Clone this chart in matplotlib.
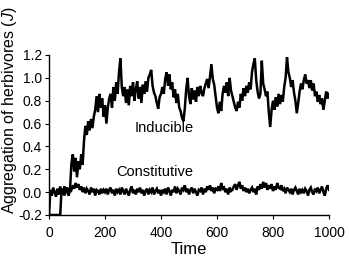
import numpy as np
import matplotlib
matplotlib.use("Agg")
import matplotlib.pyplot as plt

plt.rcParams['font.family'] = ['Liberation Sans', 'DejaVu Sans']
plt.rcParams['mathtext.fontset'] = 'custom'
plt.rcParams['mathtext.it'] = 'Liberation Sans:italic'

# time steps (every 5 units)
time = np.arange(0, 1001, 5)

inducible = [
    -0.2, -0.2, -0.2, -0.2, -0.2, -0.2, -0.2, -0.2, -0.2,
    0.03, -0.02, 0.05, 0.0, 0.04, -0.03, 0.02,
    0.25, 0.33, 0.18, 0.3, 0.13, 0.27, 0.2, 0.33, 0.24,
    0.45, 0.58, 0.5, 0.62, 0.54, 0.64, 0.56, 0.66, 0.72, 0.84, 0.7, 0.86, 0.74, 0.82, 0.66, 0.76,
    0.6, 0.74, 0.82, 0.86, 0.74, 0.92, 0.8, 0.96, 0.86, 1.05, 1.17, 0.92, 0.84, 0.92, 0.78, 0.9, 0.76, 0.93, 0.84, 0.96,
    0.8, 0.9, 0.97, 0.82, 0.92, 0.78, 0.94, 0.86, 0.97, 0.88, 1.0, 1.03, 1.07, 0.93, 0.87, 0.84, 0.78, 0.73, 0.83, 0.86,
    0.92, 0.86, 0.99, 1.05, 0.93, 1.03, 0.9, 0.96, 0.83, 0.9, 0.78, 0.86, 0.74, 0.71, 0.65, 0.62, 0.73, 0.9, 1.0, 0.84,
    0.77, 0.91, 0.81, 0.89, 0.79, 0.92, 0.84, 0.93, 0.87, 0.84, 0.91, 0.95, 0.99, 0.91, 1.01, 1.12, 0.99, 0.94, 0.84, 0.74,
    0.69, 0.79, 0.71, 0.86, 0.93, 0.87, 0.96, 0.84, 1.0, 0.89, 0.84, 0.79, 0.74, 0.71, 0.79, 0.74, 0.86, 0.8, 0.91, 0.84,
    0.93, 0.87, 0.96, 0.9, 1.05, 1.12, 1.17, 0.98, 0.88, 0.82, 0.86, 1.15, 0.95, 0.9, 0.84, 0.88, 0.7, 0.57, 0.72, 0.8,
    0.72, 0.83, 0.75, 0.86, 0.77, 0.85, 0.79, 0.92, 1.0, 1.18, 1.05, 1.0, 0.92, 0.98, 0.87, 0.8, 0.69, 0.78, 0.88, 0.95,
    0.9, 0.98, 1.03, 0.95, 0.98, 0.91, 0.98, 0.89, 0.95, 0.84, 0.88, 0.79, 0.85, 0.77, 0.82, 0.72, 0.8, 0.88, 0.82, 0.86,
]

constitutive = [
    -0.2,
    0.02, -0.03, 0.04, 0.0, -0.04, 0.03, -0.02, 0.05, -0.01, 0.02, -0.03, 0.03, 0.0, -0.02, 0.04, 0.02, 0.06, 0.03, 0.08, 0.04,
    0.07, 0.02, 0.05, 0.0, 0.04, -0.01, 0.03, 0.01, -0.02, 0.04, 0.0, 0.03, -0.03, 0.02, 0.01, -0.02, 0.03, -0.01, 0.02, 0.0,
    0.03, -0.02, 0.02, 0.04, -0.01, 0.02, -0.03, 0.03, 0.0, 0.02, -0.02, 0.04, 0.01, -0.02, 0.03, 0.0, -0.03, 0.02, 0.05, -0.01,
    0.02, -0.02, 0.03, 0.0, 0.04, -0.01, 0.02, -0.03, 0.01, 0.03, -0.02, 0.02, 0.0, 0.04, -0.02, 0.01, 0.03, -0.01, 0.02, -0.03,
    0.02, 0.0, 0.03, -0.02, 0.04, 0.01, -0.03, 0.02, 0.0, 0.05, -0.01, 0.03, 0.01, -0.02, 0.04, 0.02, 0.06, 0.0, 0.03, -0.02,
    0.02, 0.04, -0.01, 0.03, 0.0, -0.03, 0.02, 0.01, 0.04, -0.02, 0.03, 0.0, 0.05, 0.02, 0.06, 0.01, 0.04, -0.01, 0.03, 0.02,
    0.05, 0.01, 0.08, 0.03, 0.04, 0.0, 0.03, -0.02, 0.04, 0.01, 0.02, 0.05, 0.07, 0.02, 0.06, 0.09, 0.03, 0.06, 0.01, 0.04,
    0.0, 0.03, -0.01, 0.02, 0.04, 0.0, 0.03, -0.02, 0.05, 0.02, 0.07, 0.03, 0.09, 0.04, 0.08, 0.02, 0.06, 0.03, 0.07, 0.01,
    0.05, 0.02, 0.08, 0.04, 0.03, 0.06, 0.01, 0.03, -0.01, 0.04, 0.02, 0.0, 0.03, -0.02, 0.02, 0.04, 0.01, -0.02, 0.03, 0.0,
    0.02, -0.01, 0.03, 0.01, -0.03, 0.02, 0.04, 0.0, -0.02, 0.03, 0.01, 0.04, -0.01, 0.02, 0.05, 0.0, -0.03, 0.03, 0.06, 0.02,
]

xticks = [0, 200, 400, 600, 800, 1000]
yticks = [-0.2, 0.0, 0.2, 0.4, 0.6, 0.8, 1.0, 1.2]

fig = plt.figure(figsize=(3.49, 2.63), dpi=100)
ax = fig.add_axes([49 / 349, 1 - 215 / 263, 280 / 349, 160 / 263])

ax.plot(time, inducible, color='black', lw=1.8, solid_joinstyle='miter')
ax.plot(time, constitutive, color='black', lw=1.8, solid_joinstyle='miter')

ax.set_xlim(0, 1000)
ax.set_ylim(-0.2, 1.2)
ax.set_xticks(xticks)
ax.set_yticks(yticks)
ax.set_yticklabels([f'{v:.1f}' for v in yticks])

for s in ['top', 'right']:
    ax.spines[s].set_visible(False)
for s in ['left', 'bottom']:
    ax.spines[s].set_linewidth(1.0)
ax.tick_params(direction='out', length=3, width=0.8, labelsize=10, pad=2)
ax.tick_params(axis='x', pad=5)

ax.text(411, 0.56, 'Inducible', fontsize=10.5, ha='center', va='center')
ax.text(379, 0.175, 'Constitutive', fontsize=10.5, ha='center', va='center')

ax.set_xlabel('Time', fontsize=12, labelpad=1)
ax.set_ylabel('Aggregation of herbivores ($J$)', fontsize=11.5)
ax.yaxis.set_label_coords(-0.107, 0.655)

fig.savefig('out.png', dpi=100)
